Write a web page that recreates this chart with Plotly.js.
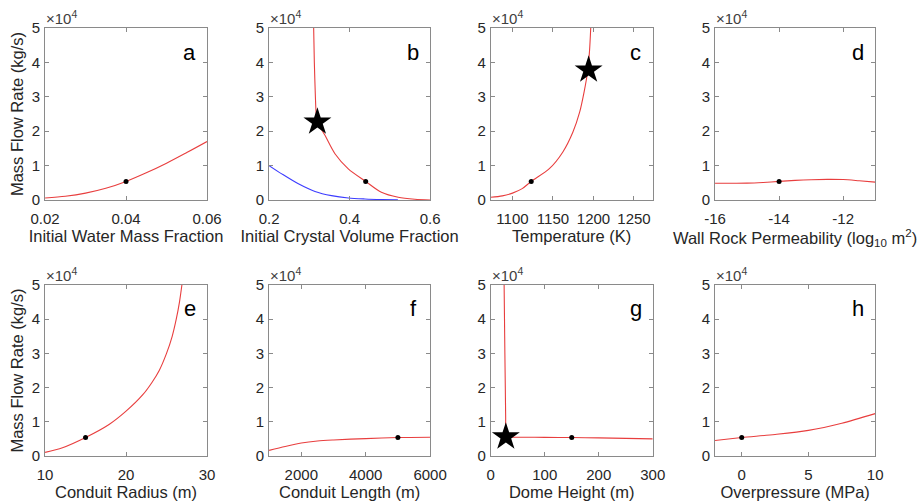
<!DOCTYPE html>
<html><head><meta charset="utf-8">
<script src="https://cdn.plot.ly/plotly-3.0.1.min.js"></script>
<style>html,body{margin:0;padding:0;background:#fff}#chart{width:920px;height:503px}</style>
</head><body><div id="chart"></div>
<script>
// ---- data (mass flow rate in kg/s) ----
const waterX = [0.02, 0.025, 0.03, 0.035, 0.04, 0.045, 0.05, 0.055, 0.06];
const waterY = [600, 1100, 2000, 3400, 5400, 7900, 10700, 13800, 17000];

const crystalX = [0.3107, 0.3124, 0.315, 0.317, 0.32, 0.3388, 0.3636, 0.3967, 0.44, 0.479, 0.5207, 0.562, 0.6];
const crystalY = [50000, 40000, 30000, 25000, 22700, 18800, 13450, 9060, 5400, 2240, 780, 200, 0];
const crystalBlueX = [0.2, 0.2314, 0.2727, 0.314, 0.355, 0.397, 0.438, 0.48, 0.52];
const crystalBlueY = [10000, 7600, 4700, 2500, 1270, 580, 300, 150, 80];

const tempX = [1073.15, 1087.5, 1100, 1112, 1123.15, 1145.5, 1162, 1174.5, 1183, 1188.5, 1192.5, 1195, 1196.6];
const tempY = [800, 1200, 2000, 3300, 5400, 9100, 13900, 19700, 25600, 31500, 37000, 43000, 50000];

const permX = [-16, -15.5, -15, -14.5, -14, -13.5, -13, -12.5, -12, -11.5, -11];
const permY = [4850, 4850, 4900, 5100, 5400, 5700, 5900, 6000, 5950, 5600, 5200];

const radiusX = [10, 12.15, 15, 17.9, 20, 22.1, 23.2, 24.1, 25, 25.7, 26.2, 26.6, 26.9];
const radiusY = [1070, 2400, 5400, 9200, 13100, 18000, 21500, 25000, 30000, 35000, 40000, 45000, 50000];

const lengthX = [1000, 1500, 2000, 2500, 3000, 4000, 5000, 6000];
const lengthY = [1650, 2800, 3800, 4400, 4700, 5100, 5400, 5500];

const domeX = [24.8, 25.5, 26.2, 27, 27.6, 28, 29, 35, 60, 100, 150, 200, 250, 300];
const domeY = [50000, 40000, 30000, 20000, 12000, 7000, 5800, 5550, 5500, 5450, 5400, 5300, 5150, 5000];

const overX = [-2, 0, 2.5, 5, 7.5, 10];
const overY = [4550, 5400, 6300, 7500, 9600, 12400];

// reference model point (dots) per panel
const dotX = [0.04, 0.44, 1123.15, -14, 15, 5000, 150, 0];
const dotY = [5400, 5400, 5400, 5400, 5400, 5400, 5400, 5400];

// stars: panel index, x, y
const starPanel = [1, 2, 6];
const starX = [0.32, 1194, 28];
const starY = [22700, 37800, 5600];

// axes
const panelLetters = ['a', 'b', 'c', 'd', 'e', 'f', 'g', 'h'];
const xTitles = ['Initial Water Mass Fraction', 'Initial Crystal Volume Fraction', 'Temperature (K)',
  'Wall Rock Permeability (log<sub>10</sub> m<sup>2</sup>)', 'Conduit Radius (m)', 'Conduit Length (m)',
  'Dome Height (m)', 'Overpressure (MPa)'];
const yTitle = 'Mass Flow Rate (kg/s)';
const xRanges = [[0.02, 0.06], [0.2, 0.6], [1073.15, 1273.15], [-16, -11], [10, 30], [1000, 6000], [0, 300], [-2, 10]];
const xTickVals = [[0.02, 0.04, 0.06], [0.2, 0.4, 0.6], [1100, 1150, 1200, 1250], [-16, -14, -12],
  [10, 20, 30], [2000, 4000, 6000], [0, 100, 200, 300], [0, 5, 10]];
const xTickText = [['0.02', '0.04', '0.06'], ['0.2', '0.4', '0.6'], ['1100', '1150', '1200', '1250'], ['-16', '-14', '-12'],
  ['10', '20', '30'], ['2000', '4000', '6000'], ['0', '100', '200', '300'], ['0', '5', '10']];
const yTickVals = [0, 10000, 20000, 30000, 40000, 50000];
const yTickText = ['0', '1', '2', '3', '4', '5'];
const yRange = [0, 50000];

const redCurvesX = [waterX, crystalX, tempX, permX, radiusX, lengthX, domeX, overX];
const redCurvesY = [waterY, crystalY, tempY, permY, radiusY, lengthY, domeY, overY];

// ---- layout geometry ----
const colDom = [[0.049, 0.225], [0.2925, 0.4675], [0.5334, 0.7095], [0.7772, 0.9513]];
const rowDom = [[0.6024, 0.9443], [0.0934, 0.4334]];
const FONT = 'Liberation Sans, Arial, Helvetica, sans-serif';
const RED = 'rgb(232,62,62)';
const BLUE = 'rgb(60,60,255)';
const AXC = '#8a8a8a';
const TXT = '#262626';

const traces = [];
const layout = {
  width: 920, height: 503,
  margin: {l: 0, r: 0, t: 0, b: 0},
  paper_bgcolor: '#fff', plot_bgcolor: '#fff',
  showlegend: false,
  font: {family: FONT, color: TXT, size: 15},
  annotations: []
};

for (let i = 0; i < 8; i++) {
  const n = i + 1;
  const xa = 'x' + (n === 1 ? '' : n), ya = 'y' + (n === 1 ? '' : n);
  const xk = 'xaxis' + (n === 1 ? '' : n), yk = 'yaxis' + (n === 1 ? '' : n);
  const col = i % 4, row = Math.floor(i / 4);
  const common = {
    showgrid: false, zeroline: false, showline: true, linecolor: AXC, linewidth: 1,
    mirror: 'ticks', ticks: 'inside', ticklen: 4, tickcolor: AXC, tickwidth: 1,
    tickfont: {family: FONT, size: 15, color: TXT}, fixedrange: true
  };
  layout[xk] = Object.assign({}, common, {
    domain: colDom[col], anchor: ya, range: xRanges[i], tickmode: 'array',
    tickvals: xTickVals[i], ticktext: xTickText[i], ticklabelstandoff: 5,
    title: {text: xTitles[i], font: {family: FONT, size: 16.5, color: TXT}, standoff: 3}
  });
  layout[yk] = Object.assign({}, common, {
    domain: rowDom[row], anchor: xa, range: yRange, tickmode: 'array',
    tickvals: yTickVals, ticktext: yTickText, ticklabelstandoff: 1
  });
  if (col === 0) layout[yk].title = {text: yTitle, font: {family: FONT, size: 16.5, color: TXT}, standoff: 3};

  traces.push({x: redCurvesX[i], y: redCurvesY[i], xaxis: xa, yaxis: ya, type: 'scatter', mode: 'lines',
    line: {color: RED, width: 1.1, shape: 'spline', smoothing: 0.8}, hoverinfo: 'skip'});
  if (i === 1) {
    traces.push({x: crystalBlueX, y: crystalBlueY, xaxis: xa, yaxis: ya, type: 'scatter', mode: 'lines',
      line: {color: BLUE, width: 1.1, shape: 'spline', smoothing: 0.8}, hoverinfo: 'skip'});
  }
  traces.push({x: [dotX[i]], y: [dotY[i]], xaxis: xa, yaxis: ya, type: 'scatter', mode: 'markers',
    marker: {color: '#000', size: 5}, hoverinfo: 'skip', cliponaxis: false});
  const s = starPanel.indexOf(i);
  if (s >= 0) {
    traces.push({x: [starX[s]], y: [starY[s]], xaxis: xa, yaxis: ya, type: 'scatter', mode: 'markers',
      marker: {color: '#000', size: 21, symbol: 'star'}, hoverinfo: 'skip', cliponaxis: false});
  }
  // panel letter
  layout.annotations.push({text: panelLetters[i], xref: xa + ' domain', yref: ya + ' domain',
    x: 0.895, y: 0.86, xanchor: 'center', yanchor: 'middle', showarrow: false,
    font: {family: FONT, size: 22, color: '#000'}});
  // exponent label
  layout.annotations.push({text: '\u00d710<sup>4</sup>', xref: xa + ' domain', yref: ya + ' domain',
    x: 0, y: 1, xanchor: 'left', yanchor: 'bottom', showarrow: false, xshift: -1, yshift: -1,
    font: {family: FONT, size: 15, color: '#404040'}});
}

Plotly.newPlot('chart', traces, layout, {staticPlot: true, displayModeBar: false});
</script>
</body></html>
